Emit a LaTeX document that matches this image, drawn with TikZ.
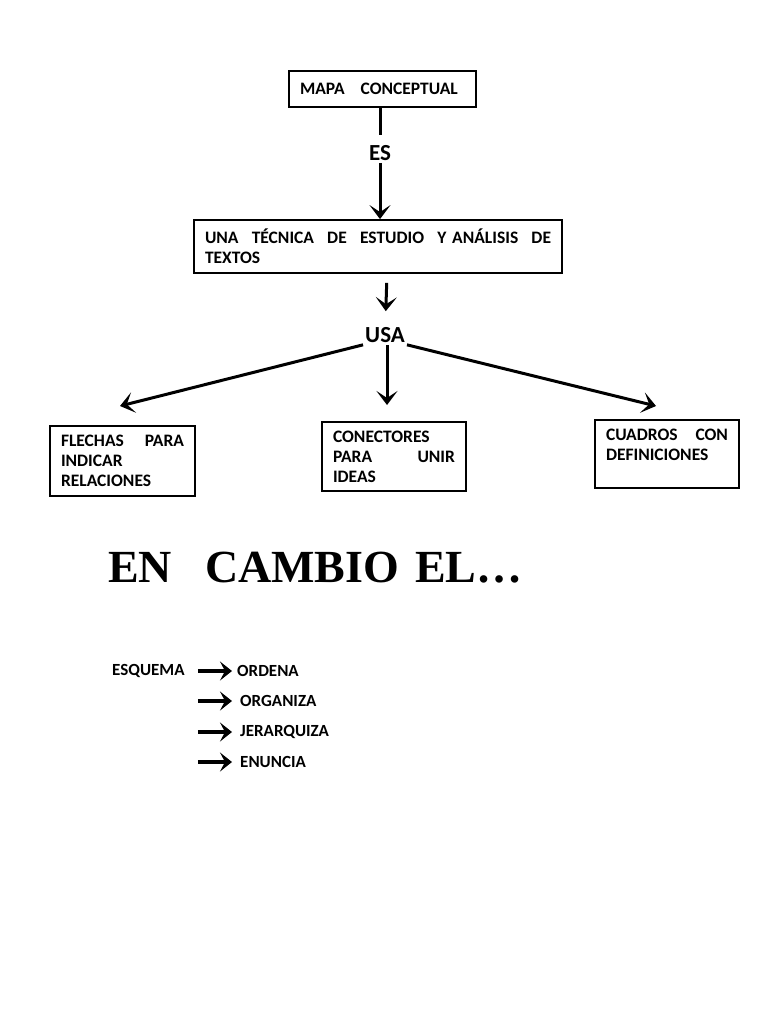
\documentclass[tikz,border=0pt]{standalone}
\usepackage{fontspec}
\setmainfont{Carlito}
\newfontfamily\titlefont{Liberation Serif}
\usetikzlibrary{arrows.meta,positioning}

\begin{document}
\begin{tikzpicture}[x=1pt, y=-1pt,
    box/.style={rectangle, draw, line width=2pt, inner xsep=10pt, inner ysep=9pt, align=left, font=\bfseries\fontsize{17.5}{20}\selectfont},
    lbl/.style={font=\bfseries\fontsize{23}{23}\selectfont, inner sep=2pt},
    item/.style={anchor=west, inner sep=0pt, font=\bfseries\fontsize{17}{17}\selectfont},
    arr/.style={-{Stealth[length=14pt, width=21pt, inset=7pt]}, line width=3pt},
    arrs/.style={-{Stealth[length=12pt, width=19pt, inset=5pt]}, line width=3.5pt}
]
    \useasboundingbox (0,0) rectangle (768,1024);

    % upper part
    \node[box, minimum width=187pt, minimum height=36pt, text width=165pt] (mapa) at (382.5,89) {MAPA\hspace{16pt}CONCEPTUAL};
    \node[lbl] (es) at (380,153) {ES};
    \node[box, minimum width=368pt, minimum height=49pt, text width=346pt] (tecnica) at (378,246.5) {UNA\hfill TÉCNICA\hfill DE\hfill ESTUDIO\hfill Y ANÁLISIS\hfill DE\\TEXTOS};
    \node[lbl] (usa) at (385,335) {USA};

    \node[box, minimum width=145pt, minimum height=66pt, text width=123pt] (flechas) at (122.5,461) {FLECHAS\hfill PARA\\INDICAR\\RELACIONES};
    \node[box, minimum width=144pt, minimum height=67pt, text width=122pt] (conectores) at (394,456.5) {CONECTORES\\PARA\hfill UNIR\\IDEAS};
    \node[box, minimum width=144pt, text width=122pt, text depth=38pt] (cuadros) at (667,454) {CUADROS\hfill CON\\DEFINICIONES};

    \coordinate (l-end) at (120,406);
    \coordinate (m-end) at (387,405);
    \coordinate (r-end) at (656,406);

    \draw[line width=3pt, shorten >=8pt] (mapa.south -| es) -- (es);
    \draw[arr] (es) -- (es |- tecnica.north);
    \draw[arr, shorten <=9pt, shorten >=14pt] (tecnica.south -| m-end) -- (usa);
    \draw[arr] (usa.south west) -- (l-end);
    \draw[arr] (usa.south -| m-end) -- (m-end);
    \draw[arr] (usa.south east) -- (r-end);

    % lower part
    \node[font=\titlefont\bfseries\fontsize{46}{46}\selectfont, anchor=west, inner sep=0pt] (titulo) at (108,568) {EN\hspace{33pt}CAMBIO\hspace{16pt}EL…};

    \node[item] (esquema) at (112,671) {ESQUEMA};
    \node[item] (ordena) at (237,671) {ORDENA};
    \node[item] (organiza) at (240,701) {ORGANIZA};
    \node[item] (jerarquiza) at (240,732) {JERARQUIZA};
    \node[item] (enuncia) at (240,762) {ENUNCIA};

    \draw[arrs, shorten <=13pt, shorten >=5pt] (esquema.east) -- (ordena.west);
    \draw[arrs, shorten <=13pt, shorten >=8pt] (esquema.east |- organiza.west) -- (organiza.west);
    \draw[arrs, shorten <=13pt, shorten >=8pt] (esquema.east |- jerarquiza.west) -- (jerarquiza.west);
    \draw[arrs, shorten <=13pt, shorten >=8pt] (esquema.east |- enuncia.west) -- (enuncia.west);
\end{tikzpicture}
\end{document}
